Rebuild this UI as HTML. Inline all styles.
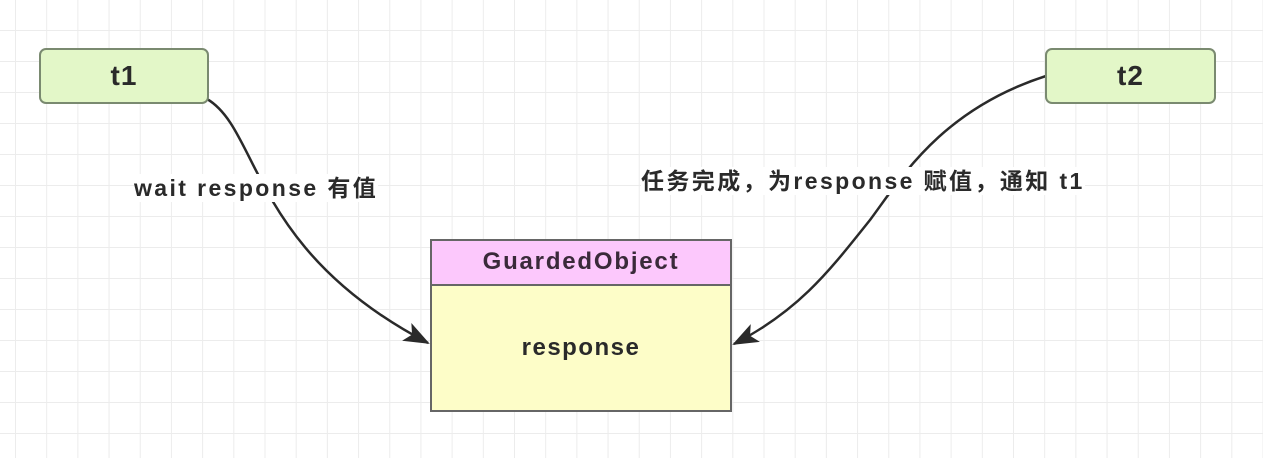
<!DOCTYPE html>
<html><head><meta charset="utf-8"><style>
body{margin:0;width:1263px;height:458px;overflow:hidden;background:#fff;font-family:"Liberation Sans","Noto Sans CJK SC",sans-serif;}
.grid{position:absolute;left:0;top:0;width:1263px;height:458px;
background-image:linear-gradient(to right,#ececec 1px,transparent 1px),linear-gradient(to bottom,#ececec 1px,transparent 1px);
background-size:31.2px 31px;background-position:15px 30px;}
.node{position:absolute;background:#e3f7c8;border:2px solid #7a8a70;border-radius:7px;text-align:center;font-weight:bold;font-size:28px;color:#2a2a2a;box-sizing:border-box;letter-spacing:1px}
.lbl{position:absolute;font-weight:bold;font-size:23px;letter-spacing:2.4px;color:#2a2a2a;white-space:nowrap;background:#fff;line-height:28px}
</style></head><body>
<div class="grid"></div>
<svg width="1263" height="458" style="position:absolute;left:0;top:0">
<defs><marker id="a" markerWidth="26" markerHeight="20" refX="24" refY="10" orient="auto" markerUnits="userSpaceOnUse"><path d="M0,0 L26,10 L0,20 L6,10 z" fill="#2a2a2a"/></marker></defs>
<path d="M207,99 C260,130 250,250 428,343" stroke="#2a2a2a" stroke-width="2.5" fill="none" marker-end="url(#a)"/>
<path d="M1046,76 C940,110 900,180 870,220 C830,270 800,310 734,344" stroke="#2a2a2a" stroke-width="2.5" fill="none" marker-end="url(#a)"/>
</svg>
<div class="node" style="left:39px;top:48px;width:170px;height:56px;line-height:52px">t1</div>
<div class="node" style="left:1045px;top:48px;width:171px;height:56px;line-height:52px">t2</div>
<div class="lbl" style="left:134px;top:174px">wait response 有值</div>
<div class="lbl" style="left:641px;top:167px">任务完成，为response 赋值，通知 t1</div>
<div style="position:absolute;left:430px;top:239px;width:302px;height:173px;box-sizing:border-box;border:2px solid #666;background:#fdfdc8">
<div style="height:43px;background:#fcc8fc;border-bottom:2px solid #666;text-align:center;line-height:42px;font-weight:bold;font-size:24px;letter-spacing:1.8px;color:#3a2a3a">GuardedObject</div>
<div style="text-align:center;font-weight:bold;font-size:24px;letter-spacing:1.5px;color:#2a2a2a;margin-top:48px">response</div>
</div>
</body></html>
